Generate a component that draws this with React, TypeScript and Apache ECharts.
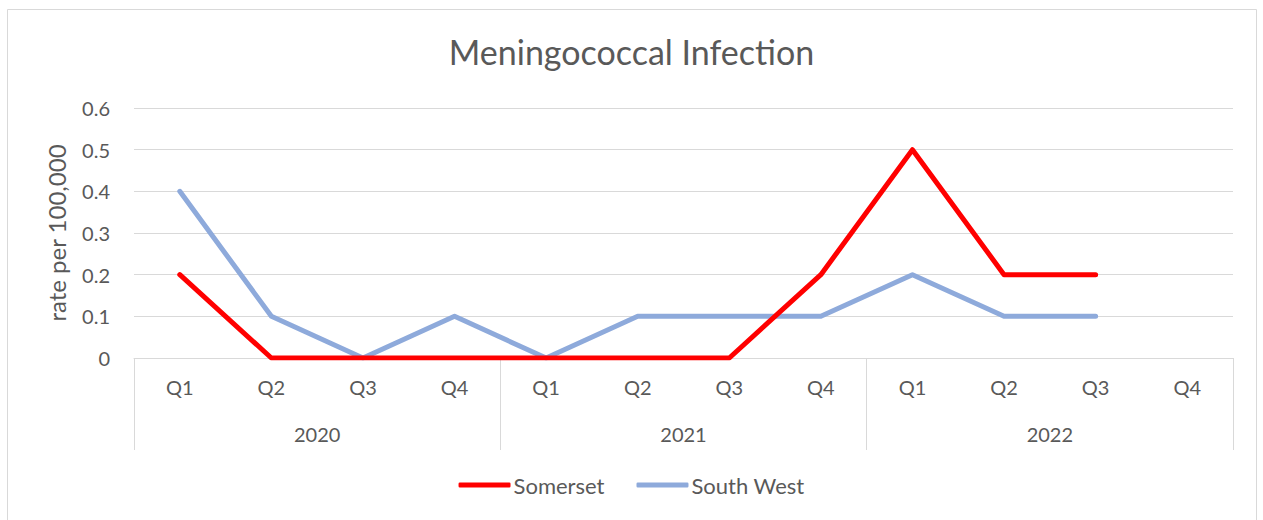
import React, { useEffect, useRef } from "react";
import * as echarts from "echarts";

const quarters = ["Q1", "Q2", "Q3", "Q4", "Q1", "Q2", "Q3", "Q4", "Q1", "Q2", "Q3", "Q4"];
const years = ["2020", "2021", "2022"];
const somerset = [0.2, 0, 0, 0, 0, 0, 0, 0.2, 0.5, 0.2, 0.2, null];
const southWest = [0.4, 0.1, 0, 0.1, 0, 0.1, 0.1, 0.1, 0.2, 0.1, 0.1, null];

const FONT = "Lato, 'Open Sans', sans-serif";
const TEXT = "#595959";
const GRIDC = "#d9d9d9";

export default function App() {
  const ref = useRef<HTMLDivElement>(null);
  useEffect(() => {
    if (!ref.current) return;
    const chart = echarts.init(ref.current, undefined, { renderer: "svg" });
    chart.setOption({
      animation: false,
      backgroundColor: "#ffffff",
      textStyle: { fontFamily: FONT },
      title: {
        text: "Meningococcal Infection",
        left: "center",
        top: 29,
        textStyle: { fontFamily: FONT, fontSize: 34, fontWeight: "normal", color: TEXT },
      },
      graphic: [
        {
          type: "rect",
          shape: { x: 7.5, y: 9.5, width: 1249, height: 520 },
          style: { fill: "none", stroke: GRIDC, lineWidth: 1 },
          silent: true,
        },
      ],
      legend: {
        bottom: 19,
        left: "center",
        icon: "roundRect",
        itemWidth: 52,
        itemHeight: 5,
        itemGap: 32,
        textStyle: { fontFamily: FONT, fontSize: 22, color: TEXT, padding: [0, 0, 0, -2] },
        data: ["Somerset", "South West"],
      },
      grid: { left: 134, right: 30, top: 108, bottom: 162, containLabel: false },
      xAxis: [
        {
          type: "category",
          data: quarters,
          boundaryGap: true,
          position: "bottom",
          axisLine: { show: true, lineStyle: { color: GRIDC, width: 1 } },
          axisTick: { show: false },
          axisLabel: { color: TEXT, fontSize: 20, fontFamily: FONT, margin: 19 },
        },
        {
          type: "category",
          data: years,
          boundaryGap: true,
          position: "bottom",
          offset: 0,
          axisLine: { show: false },
          axisTick: { show: true, length: 92, lineStyle: { color: GRIDC, width: 1 } },
          axisLabel: { color: TEXT, fontSize: 20, fontFamily: FONT, margin: 66 },
        },
      ],
      yAxis: {
        type: "value",
        min: 0,
        max: 0.6,
        interval: 0.1,
        name: "rate per 100,000",
        nameLocation: "middle",
        nameGap: 66,
        nameRotate: 90,
        nameTextStyle: { color: TEXT, fontSize: 24, fontFamily: FONT },
        axisLine: { show: false },
        axisTick: { show: false },
        splitLine: { lineStyle: { color: GRIDC, width: 1 } },
        axisLabel: {
          color: TEXT,
          fontSize: 20,
          fontFamily: FONT,
          margin: 24,
          formatter: (v: number) => (v === 0 ? "0" : String(Math.round(v * 10) / 10)),
        },
      },
      series: [
        {
          name: "Somerset",
          type: "line",
          data: somerset,
          symbol: "none",
          lineStyle: { color: "#ff0000", width: 5, cap: "round", join: "round" },
          itemStyle: { color: "#ff0000" },
          z: 3,
        },
        {
          name: "South West",
          type: "line",
          data: southWest,
          symbol: "none",
          lineStyle: { color: "#8eaadb", width: 5, cap: "round", join: "round" },
          itemStyle: { color: "#8eaadb" },
          z: 2,
        },
      ],
    });
    return () => chart.dispose();
  }, []);
  return (
    <div style={{ position: "fixed", left: 0, top: 0, width: 1263, height: 520, background: "#fff" }}>
      <div ref={ref} style={{ width: 1263, height: 520 }} />
    </div>
  );
}
